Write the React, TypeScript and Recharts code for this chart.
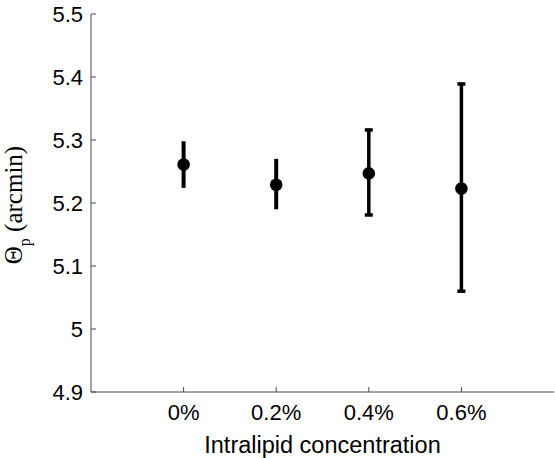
import React from 'react';
import { ScatterChart, Scatter, XAxis, YAxis, ErrorBar, Label } from 'recharts';

const concentrations = [0, 0.2, 0.4, 0.6];
const meanValues = [5.261, 5.229, 5.247, 5.223];
const upperValues = [5.298, 5.270, 5.316, 5.389];
const lowerValues = [5.224, 5.190, 5.181, 5.060];
const xTicks = [0, 0.2, 0.4, 0.6];
const yTicks = [4.9, 5, 5.1, 5.2, 5.3, 5.4, 5.5];

const rows = concentrations.map((x, i) => ({
  x,
  y: meanValues[i],
  err: [meanValues[i] - lowerValues[i], upperValues[i] - meanValues[i]],
}));
const narrowRows = rows.slice(0, 2);
const cappedRows = rows.slice(2);

const AXIS = '#4a4a4a';
const SANS = '"Liberation Sans", Arial, sans-serif';
const SERIF = '"Liberation Serif", "Times New Roman", serif';

const dot = (props: any) => <circle cx={props.cx} cy={props.cy} r={6.3} fill="#000" />;

const fmtX = (v: number) => `${Math.abs(v) < 1e-9 ? '0' : v.toFixed(1)}%`;
const fmtY = (v: number) => (Math.abs(v - 5) < 1e-9 ? '5' : v.toFixed(1));

const XLabel = (props: any) => {
  const vb = props.viewBox;
  return (
    <text x={vb.x + vb.width / 2} y={vb.y + 61} textAnchor="middle" fontFamily={SANS} fontSize={23.5} fill="#000">
      Intralipid concentration
    </text>
  );
};

const YLabel = (props: any) => {
  const vb = props.viewBox;
  const cx = 22;
  const cy = vb.y + 191;
  return (
    <text x={cx} y={cy} transform={`rotate(-90, ${cx}, ${cy})`} textAnchor="middle" fontFamily={SERIF} fontSize={25} fill="#000">
      <tspan>Θ</tspan>
      <tspan fontSize={16} dy={8}>p</tspan>
      <tspan dy={-8}>{'\u00a0(arcmin)'}</tspan>
    </text>
  );
};

export default function App() {
  return (
    <div style={{ position: 'absolute', left: 0, top: 0, background: '#fff' }}>
      <ScatterChart width={555} height={458} margin={{ top: 14, right: 1, bottom: 0, left: 0 }}>
        <XAxis
          type="number"
          dataKey="x"
          domain={[-0.2, 0.8]}
          ticks={xTicks}
          tickFormatter={fmtX}
          allowDataOverflow
          height={66}
          stroke={AXIS}
          tickSize={-5}
          tickMargin={17}
          fontSize={22}
          fontFamily={SANS}
          tick={{ fill: '#000', fontSize: 22, fontFamily: SANS }}
        >
          <Label content={<XLabel />} />
        </XAxis>
        <YAxis
          type="number"
          dataKey="y"
          domain={[4.9, 5.5]}
          ticks={yTicks}
          tickFormatter={fmtY}
          allowDataOverflow
          width={91}
          stroke={AXIS}
          tickSize={-5}
          tickMargin={13}
          fontSize={22}
          fontFamily={SANS}
          tick={{ fill: '#000', fontSize: 22, fontFamily: SANS }}
        >
          <Label content={<YLabel />} />
        </YAxis>
        <Scatter data={narrowRows} shape={dot} isAnimationActive={false}>
          <ErrorBar dataKey="err" direction="y" width={0} strokeWidth={4} stroke="#000" isAnimationActive={false} />
        </Scatter>
        <Scatter data={cappedRows} shape={dot} isAnimationActive={false}>
          <ErrorBar dataKey="err" direction="y" width={4} strokeWidth={3.5} stroke="#000" isAnimationActive={false} />
        </Scatter>
      </ScatterChart>
    </div>
  );
}
